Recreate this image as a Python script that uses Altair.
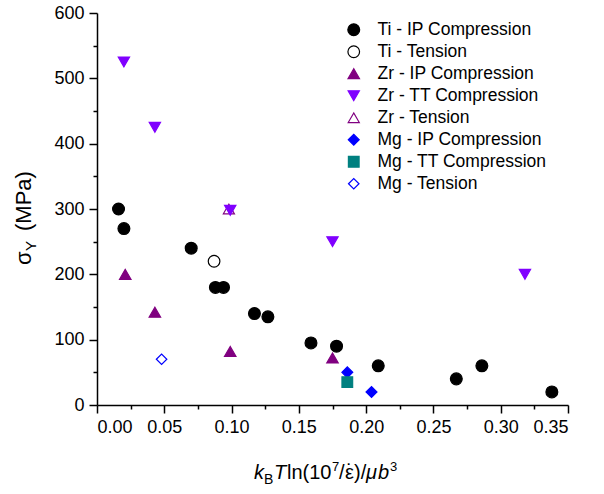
import altair as alt
import pandas as pd

# ---------------- data ----------------
series_names = ["Ti - IP Compression", "Ti - Tension", "Zr - IP Compression",
                "Zr - TT Compression", "Zr - Tension", "Mg - IP Compression",
                "Mg - TT Compression", "Mg - Tension"]

ti_ip_x = [0.016, 0.020, 0.070, 0.088, 0.094, 0.117, 0.127, 0.159, 0.178, 0.209, 0.267, 0.286, 0.338]
ti_ip_y = [300, 270, 240, 180, 180, 140, 135, 95, 90, 60, 40, 60, 20]
ti_t_x = [0.087]
ti_t_y = [220]
zr_ip_x = [0.021, 0.043, 0.099, 0.175]
zr_ip_y = [200, 142, 82, 72]
zr_tt_x = [0.020, 0.043, 0.099, 0.175, 0.318]
zr_tt_y = [525, 425, 298, 250, 200]
zr_t_x = [0.098]
zr_t_y = [300]
mg_ip_x = [0.186, 0.204]
mg_ip_y = [50, 20]
mg_tt_x = [0.186]
mg_tt_y = [35]
mg_t_x = [0.048]
mg_t_y = [70]

x_major = [0.0, 0.05, 0.10, 0.15, 0.20, 0.25, 0.30, 0.35]
x_minor = [0.025, 0.075, 0.125, 0.175, 0.225, 0.275, 0.325]
y_major = [0, 100, 200, 300, 400, 500, 600]
y_minor = [50, 150, 250, 350, 450, 550]

# ---------------- styles ----------------
shapes = ["circle", "circle", "triangle-up", "triangle-down", "triangle-up", "diamond", "square", "diamond"]
strokes = ["#000000", "#000000", "#800080", "#8000FF", "#800080", "#0000FF", "#008080", "#0000FF"]
fills = ["#000000", "transparent", "#800080", "#8000FF", "transparent", "#0000FF", "#008080", "transparent"]
sizes = [140, 110, 170, 170, 150, 150, 90, 130]

FONT = "Liberation Sans"

groups = [(ti_ip_x, ti_ip_y), (ti_t_x, ti_t_y), (zr_ip_x, zr_ip_y), (zr_t_x, zr_t_y),
          (zr_tt_x, zr_tt_y), (mg_ip_x, mg_ip_y), (mg_tt_x, mg_tt_y), (mg_t_x, mg_t_y)]
group_names = [series_names[0], series_names[1], series_names[2], series_names[4],
               series_names[3], series_names[5], series_names[6], series_names[7]]
rows = []
k = 0
for (gx, gy), name in zip(groups, group_names):
    for xv, yv in zip(gx, gy):
        rows.append({"x": xv, "y": yv, "series": name, "ord": k})
        k += 1
df = pd.DataFrame(rows)

W, H = 471, 392
x_scale = alt.Scale(domain=[0, 0.35], nice=False, zero=False)
y_scale = alt.Scale(domain=[0, 600], nice=False, zero=False)

legend = alt.Legend(orient="none", legendX=248, legendY=8, title=None,
                    labelFont=FONT, labelFontSize=17.5, labelColor="black",
                    labelOffset=15, rowPadding=3, padding=0,
                    symbolStrokeWidth=1.2, symbolOpacity=1, labelLimit=400)

points = alt.Chart(df).mark_point(opacity=1, strokeWidth=1.2).encode(
    x=alt.X("x:Q", scale=x_scale,
            axis=alt.Axis(values=x_major, format=".2f", title=None, grid=False,
                          tickSize=8, labelPadding=5, orient="bottom")),
    y=alt.Y("y:Q", scale=y_scale,
            axis=alt.Axis(values=y_major, format="d", title=None, grid=False,
                          tickSize=8, labelPadding=5, orient="left")),
    shape=alt.Shape("series:N", scale=alt.Scale(domain=series_names, range=shapes), legend=legend),
    stroke=alt.Stroke("series:N", scale=alt.Scale(domain=series_names, range=strokes), legend=legend),
    fill=alt.Fill("series:N", scale=alt.Scale(domain=series_names, range=fills), legend=legend),
    size=alt.Size("series:N", scale=alt.Scale(domain=series_names, range=sizes), legend=legend),
    order=alt.Order("ord:Q"),
)

minor = alt.Chart(df).mark_point(opacity=0).encode(
    x=alt.X("x:Q", scale=x_scale,
            axis=alt.Axis(values=x_minor, labels=False, domain=False, title=None,
                          grid=False, tickSize=4, orient="bottom")),
    y=alt.Y("y:Q", scale=y_scale,
            axis=alt.Axis(values=y_minor, labels=False, domain=False, title=None,
                          grid=False, tickSize=4, orient="left")),
)

one = pd.DataFrame({"a": [0]})


def txt(s, x, y, size, italic=False, angle=0, align="left"):
    kw = dict(font=FONT, fontSize=size, align=align, baseline="alphabetic", color="black")
    if italic:
        kw["fontStyle"] = "italic"
    if angle:
        kw["angle"] = angle
    return alt.Chart(one).mark_text(**kw).encode(
        x=alt.value(x), y=alt.value(y), text=alt.value(s))


OX, OY = 97, 13  # plot origin on the page
xb = 479 - OY
title_parts = [
    txt("k", 254 - OX, xb, 20, italic=True),
    txt("B", 264 - OX, xb + 5, 14),
    txt("T", 274 - OX, xb, 20, italic=True),
    txt("ln(10", 287 - OX, xb, 20),
    txt("7", 332 - OX, xb - 8, 13),
    txt("/", 339 - OX, xb, 20),
    txt("\u03b5", 345 - OX, xb, 20),
    txt("\u02d9", 349.5 - OX, xb - 1, 20, align="center"),
    txt(")/", 354 - OX, xb, 20),
    txt("\u03bc", 366 - OX, xb, 20, italic=True),
    txt("b", 378 - OX, xb, 20, italic=True),
    txt("3", 390 - OX, xb - 8, 13),
]
yx = 31 - OX
ytitle = [
    txt("\u03c3", yx, 265 - OY, 22, angle=270),
    txt("Y", yx + 5, 251 - OY, 15, angle=270),
    txt("(MPa)", yx, 231 - OY, 22, angle=270),
]

chart = alt.layer(minor, points, *title_parts, *ytitle).resolve_axis(
    x="independent", y="independent"
).properties(
    width=W, height=H,
    autosize=alt.AutoSizeParams(type="none"),
    padding={"left": OX, "top": OY, "right": 604 - OX - W, "bottom": 494 - OY - H},
    background="white",
).configure_view(stroke=None).configure_axis(
    domainColor="black", domainWidth=1.5, tickColor="black", tickWidth=1.5,
    labelFont=FONT, labelFontSize=18, labelColor="black",
)

chart.save("out.html", embed_options={"renderer": "svg", "actions": False})
